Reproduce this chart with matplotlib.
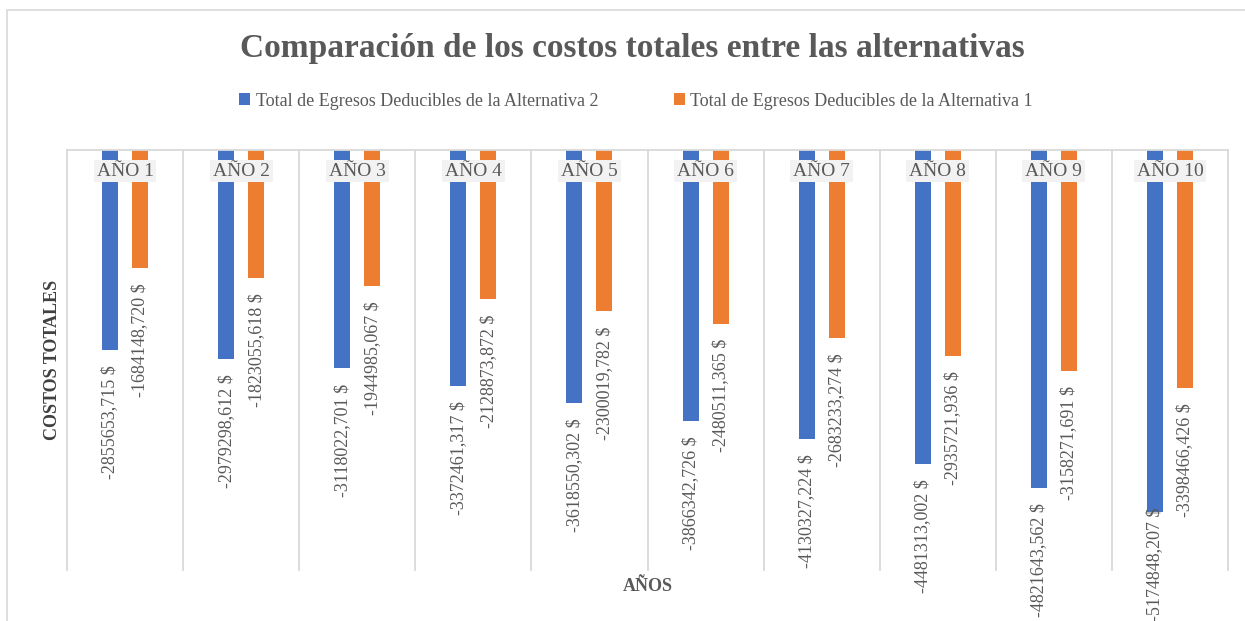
import numpy as np
import matplotlib.pyplot as plt
from matplotlib.patches import Rectangle, Patch

plt.rcParams['font.family'] = ['Liberation Serif', 'DejaVu Serif']

# Data
years = ["AÑO 1", "AÑO 2", "AÑO 3", "AÑO 4", "AÑO 5",
         "AÑO 6", "AÑO 7", "AÑO 8", "AÑO 9", "AÑO 10"]
alt2_costs = [-2855653.715, -2979298.612, -3118022.701, -3372461.317, -3618550.302,
              -3866342.726, -4130327.224, -4481313.002, -4821643.562, -5174848.207]
alt1_costs = [-1684148.720, -1823055.618, -1944985.067, -2128873.872, -2300019.782,
              -2480511.365, -2683233.274, -2935721.936, -3158271.691, -3398466.426]
series_names = ["Total de Egresos Deducibles de la Alternativa 2",
                "Total de Egresos Deducibles de la Alternativa 1"]

BLUE = '#4472C4'
ORANGE = '#ED7D31'
GRAY = '#595959'
GRID = '#D9D9D9'


def fmt(v):
    return f"{v:.3f}".replace('.', ',') + " $"


W, H = 1245, 621
fig = plt.figure(figsize=(W / 100, H / 100), dpi=100)

# outer chart frame (bottom runs past the image)
fig.patches.append(Rectangle((7 / W, -0.2), 1.0, 1.2 - 10 / H,
                             transform=fig.transFigure, fill=False,
                             edgecolor=GRID, linewidth=1.2))

left, right, top, bottom = 67 / W, 1228 / W, 1 - 150 / H, 1 - 570 / H
ax = fig.add_axes([left, bottom, right - left, top - bottom])

x = np.arange(len(years))
off, bw = 0.129, 0.138
b2 = ax.bar(x - off, alt2_costs, width=bw, color=BLUE, zorder=2)
b1 = ax.bar(x + off, alt1_costs, width=bw, color=ORANGE, zorder=2)

ax.set_xlim(-0.5, len(years) - 0.5)
ax.set_ylim(-6e6, 0)

# category separators
for i in range(len(years) + 1):
    ax.axvline(i - 0.5, color=GRID, linewidth=1.3, zorder=1, clip_on=False)

for s in ['left', 'right', 'bottom']:
    ax.spines[s].set_visible(False)
ax.spines['top'].set_color(GRID)
ax.spines['top'].set_linewidth(1.3)
ax.set_xticks([])
ax.set_yticks([])

# data labels under each bar; the deepest one gets pulled up onto its bar
lowest = min(alt2_costs + alt1_costs)
for bars, vals in ((b2, alt2_costs), (b1, alt1_costs)):
    for rect, v in zip(bars, vals):
        dy = 3 if v == lowest else -11
        ax.annotate(fmt(v), (rect.get_x() + rect.get_width() / 2, v),
                    xytext=(0, dy), textcoords='offset points',
                    rotation=90, ha='center', va='top',
                    fontsize=13, color=GRAY, annotation_clip=False)

# category labels at the top, in front of the bars
for i, name in enumerate(years):
    ax.text(i, 0.95, name, transform=ax.get_xaxis_transform(),
            ha='center', va='center', fontsize=14, color=GRAY, zorder=5,
            bbox=dict(boxstyle='square,pad=0.15', facecolor='#F2F2F2',
                      edgecolor='none'))

ax.set_ylabel("COSTOS TOTALES", fontsize=13, fontweight='bold',
              color='#404040', labelpad=4)
ax.set_xlabel("AÑOS", fontsize=13, fontweight='bold', color=GRAY, labelpad=6)

fig.text(632 / W, 1 - 49 / H,
         "Comparación de los costos totales entre las alternativas",
         ha='center', va='center', fontsize=24, fontweight='bold', color=GRAY)

handles = [Patch(facecolor=BLUE), Patch(facecolor=ORANGE)]
fig.legend(handles, series_names, loc='center', bbox_to_anchor=(636 / W, 1 - 101 / H),
           ncol=2, frameon=False, fontsize=13, labelcolor=GRAY,
           handlelength=0.6, handleheight=0.6, handletextpad=0.3,
           columnspacing=4.2)

fig.savefig('out.png', dpi=100)
